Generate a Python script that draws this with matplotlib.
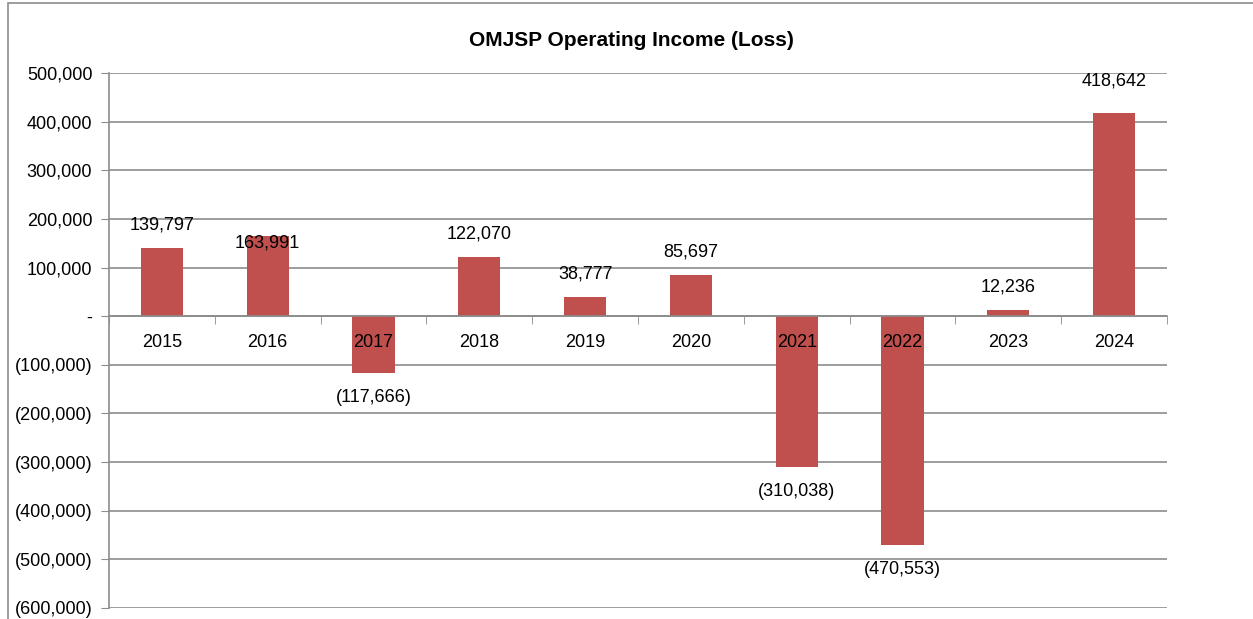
import matplotlib.pyplot as plt
import matplotlib.ticker as mticker
from matplotlib.patches import Rectangle
import numpy as np

years = ["2015", "2016", "2017", "2018", "2019", "2020", "2021", "2022", "2023", "2024"]
income = [139797, 163991, -117666, 122070, 38777, 85697, -310038, -470553, 12236, 418642]
y_ticks = [500000, 400000, 300000, 200000, 100000, 0,
           -100000, -200000, -300000, -400000, -500000, -600000]

# hand-placed data labels in the original (offsets in points)
label_nudge = {"2016": -5, "2024": 23}

plt.rcParams['font.family'] = ['Liberation Sans', 'DejaVu Sans']

fig = plt.figure(figsize=(12.53, 6.19), dpi=100)
ax = fig.add_axes([109 / 1253, 1 - 608 / 619, (1167 - 109) / 1253, (608 - 73) / 619])

# outer chart frame
fig.patches.append(Rectangle((8 / 1253, -0.1), 1.2, 1 - 3 / 619 + 0.1,
                             transform=fig.transFigure, fill=False,
                             edgecolor='#8c8c8c', linewidth=1.2))

x = np.arange(len(years))
ax.bar(x, income, width=0.4, color='#C0504D', zorder=2)

ax.set_xlim(-0.5, len(years) - 0.5)
ax.set_ylim(-600000, 500000)
ax.set_axisbelow(True)


def fmt(v, pos=None):
    if v == 0:
        return '-'
    if v < 0:
        return '({:,.0f})'.format(-v)
    return '{:,.0f}'.format(v)


ax.set_yticks(y_ticks)
ax.yaxis.set_major_formatter(mticker.FuncFormatter(fmt))
ax.tick_params(axis='y', length=6, color='#8c8c8c', labelsize=13, pad=6)
ax.yaxis.grid(True, color='#8c8c8c', linewidth=1.2)

for s in ['top', 'right']:
    ax.spines[s].set_visible(False)
ax.spines['left'].set_color('#8c8c8c')
ax.spines['left'].set_linewidth(1.2)
ax.spines['bottom'].set_position(('data', 0))
ax.spines['bottom'].set_color('#8c8c8c')
ax.spines['bottom'].set_linewidth(1.2)

ax.set_xticks(x)
ax.set_xticklabels([])
ax.tick_params(axis='x', which='major', length=0)
ax.set_xticks(np.arange(len(years) + 1) - 0.5, minor=True)
ax.tick_params(axis='x', which='minor', length=6, color='#8c8c8c', direction='out')

# category labels sit on the zero line, above the bars
for xi, yr in zip(x, years):
    ax.annotate(yr, (xi, 0), xytext=(0, -19), textcoords='offset points',
                ha='center', va='center', fontsize=13, zorder=5)

for xi, yr, v in zip(x, years, income):
    off = 16.5 if v >= 0 else -17.5
    off = label_nudge.get(yr, off)
    ax.annotate(fmt(v), (xi, v), xytext=(0, off), textcoords='offset points',
                ha='center', va='center', fontsize=13, zorder=5)

fig.text(631 / 1253, 1 - 40 / 619, 'OMJSP Operating Income (Loss)',
         ha='center', va='center', fontsize=15, fontweight='bold')

fig.savefig('out.png', dpi=100)
